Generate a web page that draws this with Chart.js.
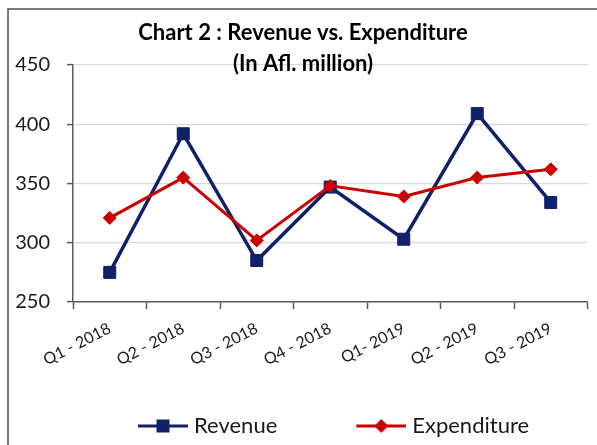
<!DOCTYPE html>
<html>
<head>
<meta charset="utf-8">
<script src="https://cdn.jsdelivr.net/npm/chart.js@4.4.1/dist/chart.umd.min.js"></script>
<style>
html,body{margin:0;padding:0;background:#fff;}
#wrap{position:relative;width:597px;height:445px;}
</style>
</head>
<body>
<div id="wrap"><canvas id="c" width="597" height="445"></canvas></div>
<script>
const categories = ['Q1 - 2018','Q2 - 2018','Q3 - 2018','Q4 - 2018','Q1- 2019','Q2 - 2019','Q3 - 2019'];
const revenue = [275, 392, 285, 347, 303, 409, 334];
const expenditure = [321, 355, 302, 348, 339, 355, 362];
const yTicks = [250, 300, 350, 400, 450];
const titleLines = ['Chart 2 : Revenue vs. Expenditure', '(In Afl. million)'];

const NAVY = '#10216a';
const RED = '#cc0000';
const AXIS = '#5a5a5a';

const LEG_BOX = 114;
function legendImg(color, style) {
  const W = LEG_BOX + 10, H = 18;
  const c = document.createElement('canvas');
  c.width = W; c.height = H;
  const g = c.getContext('2d');
  g.strokeStyle = color; g.lineWidth = 3;
  g.beginPath(); g.moveTo(W - 50, H / 2); g.lineTo(W, H / 2); g.stroke();
  g.fillStyle = color;
  const cx = W - 25, cy = H / 2;
  if (style === 'rect') {
    g.fillRect(cx - 6.5, cy - 6.5, 13, 13);
  } else {
    g.beginPath();
    g.moveTo(cx, cy - 7); g.lineTo(cx + 7, cy); g.lineTo(cx, cy + 7); g.lineTo(cx - 7, cy);
    g.closePath(); g.fill();
  }
  return c;
}
const legImgs = [legendImg(NAVY, 'rect'), legendImg(RED, 'rectRot')];

const framePlugin = {
  id: 'frame',
  beforeDraw(chart) {
    const ctx = chart.ctx;
    ctx.save();
    ctx.fillStyle = '#fff';
    ctx.fillRect(0, 0, chart.width, chart.height);
    ctx.strokeStyle = '#4d4d4d';
    ctx.lineWidth = 1.5;
    ctx.strokeRect(8, 9, 700, 600);
    ctx.restore();
  },
  afterUpdate(chart) {
    const lg = chart.legend;
    if (lg && lg.legendHitBoxes && lg.legendHitBoxes.length) {
      const dx = 69 - lg.legendHitBoxes[0].left;
      const dy = 2;
      lg.left += dx; lg.right += dx; lg.top += dy; lg.bottom += dy;
      lg.legendHitBoxes.forEach(h => { h.left += dx; h.top += dy; });
    }
    const tb = chart.titleBlock;
    if (tb) { tb.left += 9; tb.right += 9; }
  }
};

new Chart(document.getElementById('c'), {
  type: 'line',
  data: {
    labels: categories,
    datasets: [
      {
        label: 'Revenue', data: revenue, order: 1,
        borderColor: NAVY, backgroundColor: NAVY, borderWidth: 3.5,
        pointStyle: 'rect', pointRadius: 8.5, pointBorderWidth: 1,
        pointBackgroundColor: NAVY, pointBorderColor: NAVY, tension: 0
      },
      {
        label: 'Expenditure', data: expenditure, order: 0,
        borderColor: RED, backgroundColor: RED, borderWidth: 3,
        pointStyle: 'rectRot', pointRadius: 6.5, pointBorderWidth: 1,
        pointBackgroundColor: RED, pointBorderColor: RED, tension: 0
      }
    ]
  },
  options: {
    responsive: false,
    animation: false,
    layout: { padding: { left: 0, right: 9, top: 0, bottom: 0 } },
    plugins: {
      title: {
        display: true, text: titleLines, color: '#000',
        font: { family: 'Lato', size: 22, weight: 'bold', lineHeight: 1.41 },
        padding: { top: 17, bottom: -14 }
      },
      legend: {
        position: 'bottom', align: 'start',
        labels: {
          usePointStyle: true, pointStyleWidth: LEG_BOX, boxHeight: 18,
          padding: 10, color: '#1a1a1a',
          font: { family: 'Lato', size: 22 },
          generateLabels(chart) {
            const items = Chart.defaults.plugins.legend.labels.generateLabels(chart);
            items.sort((a, b) => a.datasetIndex - b.datasetIndex);
            items.forEach(it => { it.pointStyle = legImgs[it.datasetIndex]; });
            return items;
          }
        }
      },
      tooltip: { enabled: false }
    },
    scales: {
      x: {
        offset: true,
        grid: { offset: true, drawOnChartArea: false, drawTicks: true, tickLength: 7, tickColor: AXIS, tickWidth: 1.5 },
        border: { color: AXIS, width: 1.5 },
        ticks: { minRotation: 27, maxRotation: 27, color: '#1a1a1a', font: { family: 'Lato', size: 16 }, padding: 10 },
        afterFit(s) { s.height = 101; }
      },
      y: {
        min: 250, max: 450,
        afterBuildTicks(s) { s.ticks = yTicks.map(v => ({ value: v })); },
        grid: { color: '#d9d9d9', lineWidth: 1.2, tickLength: 6, tickColor: AXIS, tickWidth: 1.5 },
        border: { color: AXIS, width: 1.5 },
        ticks: { color: '#1a1a1a', font: { family: 'Lato', size: 20 }, padding: 17 },
        afterFit(s) { s.width = 73; }
      }
    }
  },
  plugins: [framePlugin]
});
</script>
</body>
</html>
